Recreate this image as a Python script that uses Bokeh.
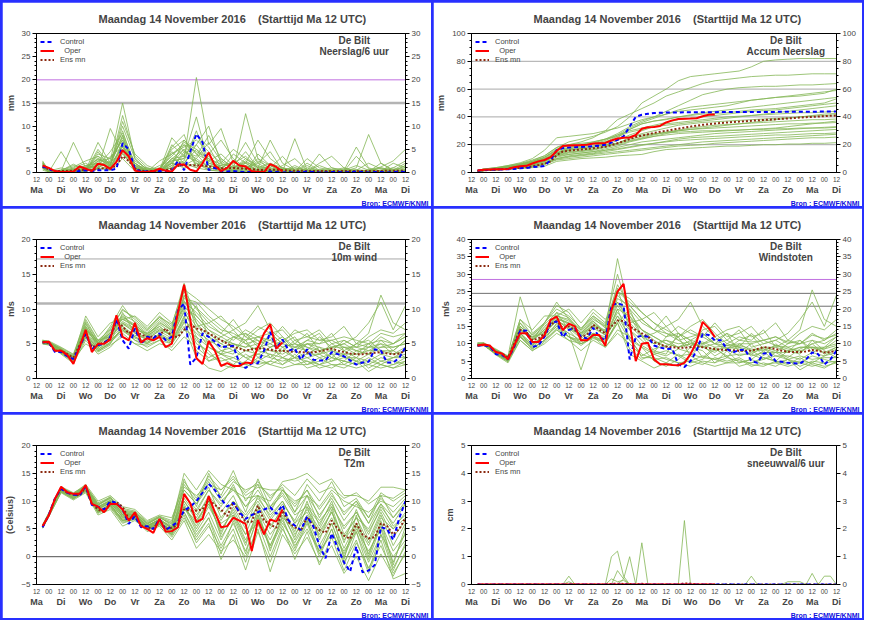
from bokeh.plotting import figure
from bokeh.models import (Range1d, LinearAxis, FixedTicker, Span, Label, Legend,
                          LegendItem, Title)
from bokeh.layouts import gridplot
from bokeh.embed import file_html
from bokeh.resources import INLINE

FONT = "Liberation Sans"
TITLE = "Maandag 14 November 2016\u00a0\u00a0\u00a0\u00a0(Starttijd Ma 12 UTC)"

# time axis (hours after Ma 14 Nov 12 UTC)
HOURS6 = list(range(6, 361, 6))                 # control / oper / ens mean
HOURS_M = [6] + list(range(12, 361, 12))        # ensemble members
XTICKS = list(range(0, 361, 12))
XLABELS = ["12", "00"] * 15 + ["12"]
DAYTICKS = list(range(0, 361, 24))
DAYLABELS = ["Ma", "Di", "Wo", "Do", "Vr", "Za", "Zo", "Ma", "Di", "Wo", "Do",
             "Vr", "Za", "Zo", "Ma", "Di"]

# ---------------- Neerslag / 6 uur ----------------
PR_OPER = [1.5, 1.0, 0.3, 0.1, 0.1, 0.2, 1.3, 0.8, 0.3, 1.9,
           1.6, 0.8, 2.3, 4.8, 3.5, 0.4, 0.1, 0.1, 0.3, 0.8,
           0.4, 0.2, 1.7, 1.7, 0.6, 0.2, 2.0, 4.3, 1.5, 0.3,
           1.0, 2.5, 1.5, 1.3, 0.3, 0.1, 0.1, 1.8, 1.2, 0.2]
PR_CTRL = [1.3, 0.8, 0.2, 0.1, 0.1, 0.1, 0.3, 0.5, 0.3, 0.5,
           0.5, 0.5, 0.8, 6.3, 5.0, 0.8, 0.2, 0.2, 0.1, 0.3,
           0.3, 0.3, 2.5, 0.5, 4.5, 8.3, 6.5, 0.5, 1.0, 0.3,
           0.2, 0.3, 0.2, 0.1, 0.1, 0.0, 0.1, 0.2, 0.1, 0.0,
           0.1, 0.0, 0.1, 0.2, 0.1, 0.0, 0.0, 0.1, 0.1, 0.0,
           0.1, 0.2, 0.1, 0.0, 0.1, 0.1, 0.0, 0.1, 0.2, 0.1]
PR_MEAN = [1.2, 0.7, 0.3, 0.3, 0.3, 0.4, 0.6, 0.5, 0.5, 0.8,
           0.9, 0.8, 1.5, 3.5, 2.5, 0.8, 0.4, 0.3, 0.3, 0.5,
           0.5, 0.8, 1.4, 1.6, 1.6, 1.5, 1.5, 1.3, 1.1, 0.9,
           0.9, 1.0, 0.9, 0.8, 0.7, 0.6, 0.5, 0.6, 0.6, 0.5,
           0.4, 0.4, 0.4, 0.3, 0.3, 0.3, 0.3, 0.3, 0.3, 0.3,
           0.3, 0.3, 0.3, 0.3, 0.3, 0.3, 0.4, 0.4, 0.4, 0.4]
PR_MEMBERS = [
    [2.0, 0.3, 0.2, 0.5, 1.5, 2.0, 1.0, 6.0, 1.5, 0.3, 0.5, 3.0, 5.0, 2.0, 1.0, 3.0, 1.0, 2.0, 0.5, 0.3, 1.0, 0.5, 0.2, 0.1, 0.5, 1.0, 0.3, 0.2, 1.0, 0.5, 0.3],
    [1.0, 0.1, 4.5, 0.3, 0.8, 1.2, 2.5, 15.0, 3.0, 0.5, 0.2, 1.5, 7.0, 4.0, 2.5, 1.0, 0.5, 12.7, 3.0, 1.5, 0.5, 0.2, 1.0, 0.3, 0.1, 0.2, 0.5, 2.0, 0.8, 0.3, 1.5],
    [2.5, 0.2, 0.3, 6.5, 1.0, 3.0, 1.5, 8.0, 0.5, 0.2, 1.5, 2.5, 3.0, 20.5, 6.0, 9.5, 2.0, 3.5, 1.0, 7.0, 2.0, 0.5, 0.3, 0.2, 0.5, 0.3, 0.1, 0.3, 0.2, 0.1, 0.2],
    [1.5, 0.2, 0.1, 0.2, 0.5, 6.5, 2.0, 5.0, 1.0, 0.8, 0.3, 5.5, 8.2, 1.0, 0.5, 0.3, 4.0, 2.0, 0.5, 0.3, 0.2, 7.3, 0.5, 0.2, 0.3, 0.1, 0.2, 0.5, 1.2, 2.5, 5.0],
    [1.2, 0.5, 0.3, 0.5, 0.3, 1.0, 9.5, 4.0, 2.0, 0.3, 0.5, 1.0, 4.0, 6.0, 10.0, 2.0, 1.0, 1.5, 0.5, 1.0, 0.5, 0.2, 3.0, 1.0, 0.5, 0.3, 1.0, 8.2, 2.0, 0.5, 0.3],
    [1.8, 0.1, 0.2, 1.0, 2.0, 0.5, 1.5, 12.3, 3.5, 1.0, 0.3, 2.0, 1.5, 3.0, 1.0, 0.5, 0.3, 0.2, 4.0, 1.5, 0.3, 0.5, 0.2, 2.0, 3.5, 1.0, 0.3, 0.2, 0.1, 0.5, 1.0],
    [0.8, 0.3, 1.0, 0.2, 0.5, 4.0, 3.0, 7.0, 0.5, 0.2, 2.5, 4.0, 6.0, 2.5, 0.5, 1.5, 2.0, 6.5, 2.0, 0.5, 0.3, 1.0, 0.5, 0.3, 0.2, 0.5, 5.5, 1.0, 0.3, 2.0, 1.0],
    [1.3, 0.2, 0.1, 0.3, 0.2, 2.5, 1.0, 5.0, 1.5, 0.5, 0.2, 3.0, 2.0, 1.0, 4.0, 7.0, 3.0, 1.0, 0.3, 0.2, 0.1, 0.2, 0.3, 0.5, 1.0, 0.3, 0.2, 0.1, 0.3, 0.2, 0.1],
    [2.2, 0.3, 0.2, 0.5, 1.0, 1.5, 0.5, 3.0, 0.3, 0.1, 0.2, 6.0, 3.5, 12.0, 2.0, 1.0, 0.5, 2.0, 7.0, 3.0, 1.0, 0.5, 0.3, 0.2, 0.1, 0.3, 0.5, 0.2, 0.3, 1.0, 2.5],
    [1.0, 0.1, 0.1, 0.2, 0.5, 3.0, 2.0, 9.0, 1.0, 0.3, 0.1, 1.0, 2.0, 5.0, 3.0, 0.5, 1.5, 4.5, 1.0, 0.3, 0.5, 0.2, 0.1, 0.3, 0.2, 0.1, 0.3, 0.5, 0.2, 0.1, 0.2],
    [1.6, 0.2, 0.5, 1.5, 0.8, 2.0, 1.0, 6.5, 2.5, 0.8, 0.5, 7.5, 4.5, 3.5, 8.0, 3.0, 1.0, 0.5, 2.5, 1.0, 3.5, 0.5, 0.3, 0.5, 0.3, 0.2, 0.1, 0.3, 0.5, 0.3, 0.5],
    [0.5, 0.1, 0.2, 0.3, 0.2, 1.0, 0.5, 4.0, 1.0, 0.2, 0.1, 2.0, 1.0, 2.0, 0.5, 0.3, 0.2, 1.0, 0.5, 0.3, 0.2, 0.1, 0.2, 0.1, 0.2, 0.3, 0.1, 0.2, 0.1, 0.2, 0.3],
    [2.0, 0.4, 0.3, 0.8, 0.4, 5.0, 1.5, 11.0, 4.0, 1.5, 0.5, 4.0, 5.5, 7.0, 4.5, 2.0, 5.0, 3.0, 1.0, 2.0, 1.0, 0.3, 0.5, 4.0, 1.0, 0.5, 0.3, 0.5, 1.0, 0.5, 2.0],
    [1.1, 0.2, 0.2, 0.4, 0.6, 0.8, 3.5, 5.5, 0.8, 0.2, 0.3, 1.5, 2.5, 9.0, 1.5, 0.8, 0.3, 0.5, 0.3, 0.5, 0.2, 1.5, 0.3, 0.2, 0.1, 0.2, 0.2, 0.3, 0.2, 0.1, 0.2],
    [1.7, 0.3, 0.5, 1.2, 2.5, 3.5, 2.0, 7.5, 1.0, 0.5, 1.0, 3.5, 6.5, 5.0, 2.0, 1.5, 0.5, 1.0, 2.0, 4.5, 0.5, 1.0, 0.5, 0.3, 0.2, 0.5, 1.5, 0.5, 0.3, 0.2, 0.5],
    [0.9, 0.2, 0.1, 0.3, 1.0, 1.5, 4.5, 8.5, 2.0, 0.3, 0.2, 2.5, 3.0, 8.0, 5.5, 1.0, 2.5, 0.5, 0.3, 0.2, 1.5, 3.0, 0.5, 0.2, 0.3, 0.5, 0.3, 0.2, 2.0, 0.5, 0.3],
    [1.4, 0.1, 0.2, 0.5, 0.3, 4.5, 1.0, 6.0, 0.8, 0.3, 0.8, 5.0, 7.0, 4.0, 1.0, 0.5, 1.0, 2.5, 0.8, 0.5, 0.3, 0.2, 2.0, 0.5, 0.3, 0.2, 0.1, 0.3, 0.2, 0.5, 0.3],
    [2.3, 0.5, 0.3, 0.8, 1.5, 2.0, 1.5, 10.0, 3.0, 0.5, 0.3, 1.0, 4.5, 3.0, 6.5, 2.5, 0.8, 3.0, 1.5, 0.5, 0.3, 0.5, 0.3, 1.5, 0.5, 0.3, 3.5, 0.8, 0.3, 0.2, 0.3],
    [1.0, 0.2, 0.2, 0.2, 0.8, 3.5, 0.8, 4.5, 0.5, 0.2, 0.3, 2.0, 5.0, 1.5, 3.5, 1.0, 0.3, 0.2, 0.5, 1.5, 0.2, 0.3, 0.2, 0.1, 0.2, 0.8, 0.2, 0.5, 0.2, 0.3, 0.2],
    [1.9, 0.3, 0.4, 1.8, 0.5, 2.5, 3.0, 7.0, 1.5, 1.0, 0.5, 4.5, 2.0, 6.0, 2.5, 4.0, 1.5, 0.8, 3.0, 0.5, 0.8, 0.3, 1.5, 0.3, 0.5, 0.2, 0.5, 0.3, 0.5, 1.0, 0.5],
    [1.2, 0.1, 0.1, 0.3, 0.4, 1.8, 1.2, 5.5, 2.0, 0.4, 0.2, 3.0, 3.5, 2.5, 1.5, 0.8, 0.4, 1.5, 0.5, 0.3, 0.5, 0.2, 0.3, 0.2, 0.1, 0.2, 0.3, 0.2, 0.1, 0.3, 1.5],
    [1.5, 0.2, 0.3, 0.6, 1.2, 2.8, 1.8, 8.0, 1.2, 0.6, 0.4, 2.2, 6.0, 4.5, 3.0, 1.8, 1.2, 2.2, 1.2, 0.8, 0.6, 0.4, 0.5, 0.6, 0.4, 0.4, 0.6, 0.4, 0.3, 0.4, 0.6],
]

# ---------------- Accum Neerslag ----------------
AC_OPER = [1.5, 2.0, 2.2, 2.3, 2.4, 2.6, 3.8, 4.5, 4.8, 6.5,
           8.0, 9.0, 11.0, 15.5, 19.0, 19.5, 19.6, 19.7, 20.0, 20.8,
           21.1, 21.3, 23.0, 24.5, 25.0, 25.2, 27.0, 31.5, 32.5, 32.8,
           33.5, 36.0, 37.5, 38.5, 38.7, 38.8, 39.0, 40.5, 41.5, 41.8]
AC_CTRL = [1.2, 1.8, 2.0, 2.1, 2.2, 2.3, 2.6, 3.0, 3.3, 3.8,
           4.2, 4.7, 9.0, 16.0, 17.5, 18.0, 18.2, 18.4, 18.6, 19.0,
           19.3, 20.0, 21.5, 23.5, 26.0, 33.0, 40.0, 41.5, 42.2, 42.8,
           43.0, 43.1, 43.2, 43.2, 43.3, 43.3, 43.3, 43.4, 43.4, 43.4,
           43.5, 43.5, 43.5, 43.5, 43.6, 43.6, 43.6, 43.6, 43.6, 43.6,
           43.7, 43.7, 43.7, 43.7, 43.7, 43.7, 43.8, 43.8, 43.8, 43.8]
AC_MEAN = [1.2, 1.6, 1.8, 2.0, 2.3, 2.6, 3.0, 3.3, 3.7, 4.5,
           5.3, 6.2, 8.0, 12.5, 15.0, 15.8, 16.2, 16.5, 17.0, 17.5,
           18.0, 18.5, 19.8, 21.0, 22.5, 24.0, 25.5, 26.5, 27.5, 28.5,
           29.3, 30.0, 30.8, 31.5, 32.3, 33.0, 33.7, 34.3, 34.8, 35.2,
           35.6, 36.0, 36.3, 36.6, 36.9, 37.2, 37.5, 37.8, 38.0, 38.3,
           38.6, 38.9, 39.2, 39.5, 39.8, 40.0, 40.3, 40.5, 40.8, 41.0]
AC_MEMBERS = [
    [1.5, 2.5, 3.5, 5.0, 6.5, 9.0, 12.0, 18.0, 22.0, 24.0, 26.0, 29.0, 33.0, 40.0, 50.0, 55.0, 60.0, 66.0, 69.0, 70.0, 71.0, 72.0, 73.0, 76.0, 80.0, 81.0, 81.5, 82.0, 82.0, 82.0, 82.0],
    [1.0, 2.0, 3.0, 4.5, 6.0, 8.0, 11.0, 16.0, 20.0, 22.0, 25.0, 30.0, 38.0, 42.0, 46.0, 50.0, 55.0, 58.0, 61.0, 64.0, 66.0, 67.0, 68.0, 69.0, 69.5, 70.0, 70.0, 70.5, 71.0, 71.0, 71.0],
    [1.2, 2.2, 3.0, 4.0, 5.5, 7.5, 10.0, 14.0, 18.0, 20.0, 22.0, 24.0, 28.0, 33.0, 37.0, 40.0, 44.0, 48.0, 52.0, 56.0, 58.0, 60.0, 61.0, 61.5, 62.0, 62.0, 62.5, 63.0, 63.0, 63.5, 64.0],
    [1.5, 2.5, 3.5, 5.0, 7.0, 10.0, 16.0, 25.0, 26.0, 27.0, 28.0, 30.0, 32.0, 35.0, 38.0, 40.0, 42.0, 44.0, 45.0, 46.0, 47.0, 48.0, 50.0, 52.0, 53.0, 54.0, 54.5, 55.0, 56.0, 57.0, 60.0],
    [0.8, 1.5, 2.0, 3.0, 4.0, 6.0, 8.0, 13.0, 16.0, 17.0, 18.0, 21.0, 25.0, 31.0, 35.0, 37.0, 38.0, 40.0, 41.0, 42.0, 42.5, 43.0, 44.0, 45.0, 45.5, 46.0, 47.0, 48.0, 49.0, 50.0, 53.0],
    [1.3, 2.0, 2.8, 3.5, 4.5, 6.5, 9.0, 14.0, 16.0, 17.0, 18.0, 20.0, 23.0, 27.0, 30.0, 33.0, 35.0, 36.0, 37.0, 38.0, 39.0, 40.0, 40.5, 41.0, 41.5, 42.0, 42.5, 43.0, 43.0, 43.5, 44.0],
    [1.0, 1.8, 2.5, 3.2, 4.0, 5.0, 7.0, 11.0, 13.0, 14.0, 15.0, 17.0, 19.0, 22.0, 24.0, 26.0, 28.0, 30.0, 31.0, 32.0, 33.0, 34.0, 35.0, 35.5, 36.0, 36.5, 37.0, 37.5, 38.0, 38.0, 38.5],
    [1.5, 2.3, 3.0, 4.0, 5.0, 7.0, 10.0, 15.0, 17.0, 18.0, 19.0, 20.0, 21.0, 23.0, 25.0, 27.0, 29.0, 30.0, 31.0, 31.5, 32.0, 32.5, 33.0, 33.5, 34.0, 34.5, 35.0, 35.0, 35.5, 35.5, 36.0],
    [0.9, 1.5, 2.0, 2.8, 3.5, 5.0, 7.0, 10.0, 12.0, 13.0, 14.0, 16.0, 18.0, 20.0, 22.0, 23.0, 24.0, 25.0, 26.0, 27.0, 28.0, 28.5, 29.0, 29.5, 30.0, 30.5, 31.0, 31.5, 32.0, 32.0, 32.5],
    [1.2, 2.0, 2.5, 3.0, 4.0, 5.5, 8.0, 12.0, 13.0, 14.0, 15.0, 16.0, 17.0, 18.5, 20.0, 21.0, 22.0, 23.0, 23.5, 24.0, 24.5, 25.0, 25.5, 26.0, 26.5, 27.0, 27.0, 27.5, 28.0, 28.0, 28.5],
    [0.7, 1.2, 1.8, 2.5, 3.0, 4.0, 6.0, 9.0, 10.0, 11.0, 12.0, 13.0, 14.0, 15.0, 16.0, 17.0, 18.0, 19.0, 19.5, 20.0, 21.0, 21.5, 22.0, 22.5, 23.0, 23.5, 24.0, 24.5, 25.0, 25.0, 25.5],
    [1.0, 1.5, 2.0, 2.5, 3.0, 3.5, 4.5, 8.0, 9.0, 10.0, 10.5, 11.0, 12.0, 12.5, 13.0, 15.0, 16.5, 17.0, 17.5, 18.0, 18.5, 19.0, 19.0, 19.5, 20.0, 20.0, 20.5, 20.5, 21.0, 21.0, 21.5],
    [1.4, 2.2, 3.0, 4.0, 6.0, 8.0, 11.0, 17.0, 19.0, 20.0, 21.0, 22.0, 24.0, 26.0, 27.0, 28.0, 28.5, 29.0, 29.5, 30.0, 30.0, 30.5, 30.5, 31.0, 31.0, 31.5, 31.5, 32.0, 32.0, 32.5, 33.0],
    [1.1, 1.8, 2.5, 3.5, 5.0, 7.0, 9.5, 14.0, 17.0, 19.0, 21.0, 24.0, 27.0, 30.0, 32.0, 34.0, 36.0, 38.0, 39.0, 40.0, 41.0, 42.0, 43.0, 44.0, 44.5, 45.0, 46.0, 47.0, 48.0, 49.0, 50.0],
    [1.3, 2.0, 2.6, 3.5, 5.0, 7.0, 9.0, 14.0, 16.0, 17.5, 19.0, 22.0, 26.0, 31.0, 35.0, 37.0, 38.5, 40.0, 41.5, 43.0, 44.0, 45.0, 46.0, 47.0, 48.0, 49.0, 50.0, 51.0, 52.0, 53.0, 54.0],
    [1.0, 1.6, 2.2, 3.0, 4.0, 5.5, 8.5, 13.0, 15.0, 16.0, 17.0, 19.0, 21.0, 24.0, 26.0, 27.5, 29.0, 30.5, 32.0, 33.0, 34.0, 34.5, 35.0, 36.0, 37.0, 38.0, 39.0, 40.0, 41.0, 42.0, 42.5],
    [1.2, 1.9, 2.5, 3.3, 4.5, 6.0, 8.0, 12.0, 14.0, 15.0, 16.0, 18.0, 20.0, 22.5, 24.5, 26.0, 27.0, 28.0, 28.5, 29.0, 29.5, 30.0, 30.5, 31.0, 31.5, 32.0, 33.0, 34.0, 35.0, 36.0, 37.0],
    [0.8, 1.3, 1.9, 2.6, 3.5, 4.5, 6.5, 10.0, 11.5, 12.5, 13.5, 15.0, 16.5, 18.0, 19.5, 21.0, 22.5, 24.0, 25.0, 25.5, 26.0, 26.5, 27.0, 27.5, 28.0, 28.5, 29.0, 29.5, 30.0, 30.5, 31.0],
    [1.4, 2.1, 2.9, 3.8, 5.5, 7.5, 10.5, 16.0, 18.0, 19.0, 20.5, 23.0, 27.0, 32.0, 36.0, 39.0, 42.0, 45.0, 47.0, 48.0, 49.0, 50.0, 51.0, 52.0, 53.0, 54.0, 55.0, 56.0, 57.0, 58.0, 59.0],
    [0.9, 1.4, 1.9, 2.5, 3.2, 4.2, 6.0, 9.5, 11.0, 12.0, 13.0, 14.0, 15.0, 16.0, 17.0, 18.0, 19.0, 20.0, 21.0, 22.0, 22.5, 23.0, 23.5, 24.0, 24.5, 25.0, 25.5, 26.0, 26.5, 27.0, 27.5],
    [1.1, 1.7, 2.3, 3.1, 4.2, 6.0, 8.0, 12.5, 14.5, 15.5, 16.5, 18.5, 21.0, 25.0, 28.0, 30.0, 32.0, 34.0, 35.0, 36.0, 36.5, 37.0, 37.5, 38.0, 38.5, 39.0, 39.5, 40.0, 40.5, 41.0, 41.5],
    [1.6, 2.4, 3.2, 4.3, 6.0, 8.5, 12.0, 18.0, 20.0, 21.0, 22.0, 24.0, 26.0, 29.0, 31.0, 33.0, 34.0, 35.0, 36.0, 37.0, 38.0, 39.0, 40.0, 41.0, 42.0, 43.0, 44.0, 45.0, 46.0, 47.0, 48.0],
]

# ---------------- 10m wind ----------------
WI_OPER = [5.2, 5.3, 4.0, 4.0, 3.4, 2.1, 4.5, 7.0, 3.8, 5.0,
           5.0, 5.6, 9.1, 6.0, 5.5, 8.0, 5.2, 5.8, 5.5, 6.0,
           4.5, 5.0, 9.5, 13.5, 8.5, 2.9, 2.1, 5.4, 4.0, 1.8,
           2.2, 1.8, 1.8, 2.3, 2.2, 4.5, 6.5, 7.8, 4.3, 5.2]
WI_CTRL = [5.2, 5.2, 3.8, 3.8, 3.2, 2.8, 4.5, 6.5, 4.2, 4.8,
           5.0, 6.0, 8.5, 5.5, 4.3, 7.2, 5.0, 6.0, 5.8, 6.5,
           5.5, 6.0, 9.8, 10.8, 2.0, 3.0, 6.5, 6.0, 5.3, 4.5,
           4.6, 4.7, 2.2, 1.5, 2.2, 2.2, 4.0, 6.7, 4.3, 5.6,
           4.0, 4.3, 2.7, 4.2, 2.7, 2.6, 2.6, 3.8, 3.5, 3.2,
           2.6, 2.0, 2.3, 2.4, 4.2, 4.0, 2.3, 2.3, 3.0, 4.5]
WI_MEAN = [5.2, 5.1, 4.0, 4.0, 3.5, 3.0, 4.8, 6.5, 4.5, 4.8,
           5.2, 5.8, 8.3, 7.5, 6.5, 7.0, 6.3, 6.0, 6.0, 6.2,
           7.2, 6.0, 6.0, 7.0, 7.8, 7.2, 7.0, 6.5, 6.0, 5.5,
           5.0, 4.6, 4.3, 4.0, 4.2, 4.3, 4.3, 4.1, 4.0, 4.0,
           3.9, 3.9, 3.8, 3.7, 3.8, 3.9, 4.1, 4.3, 4.0, 3.8,
           3.6, 3.5, 3.5, 3.6, 3.7, 3.8, 3.6, 3.5, 3.6, 4.0]
WI_MEMBERS = [
    [5.3, 5.2, 4.2, 3.0, 7.5, 4.5, 6.0, 8.0, 7.0, 6.5, 7.5, 6.0, 12.0, 9.0, 7.0, 5.5, 5.0, 4.5, 6.0, 5.0, 4.0, 5.5, 4.5, 3.5, 5.0, 4.0, 3.0, 4.5, 5.0, 3.5, 4.5],
    [5.0, 4.8, 3.8, 2.5, 6.0, 4.0, 5.0, 9.5, 6.5, 5.5, 6.0, 5.0, 8.0, 10.5, 6.0, 4.0, 3.5, 6.5, 5.5, 3.0, 4.5, 3.0, 5.0, 4.0, 3.0, 2.5, 4.0, 3.5, 5.5, 4.0, 3.0],
    [5.5, 5.4, 4.5, 3.5, 8.5, 5.5, 7.0, 10.0, 8.5, 7.0, 9.0, 7.5, 13.7, 8.0, 5.0, 6.0, 7.0, 5.0, 4.0, 6.5, 7.0, 5.0, 4.0, 6.0, 4.5, 5.0, 6.0, 8.0, 11.0, 7.0, 10.5],
    [5.1, 5.0, 3.5, 2.2, 5.5, 3.5, 4.5, 6.5, 5.0, 4.0, 5.0, 4.5, 7.0, 6.0, 2.5, 3.0, 2.0, 3.5, 2.5, 2.0, 3.0, 2.5, 3.0, 2.0, 1.5, 2.5, 2.0, 3.0, 2.0, 1.5, 2.5],
    [5.4, 5.3, 4.0, 3.2, 7.0, 5.0, 6.5, 9.0, 7.5, 6.0, 8.0, 7.0, 11.5, 11.0, 9.0, 7.5, 6.0, 5.5, 7.0, 8.0, 6.0, 4.5, 5.5, 5.0, 6.5, 4.0, 5.0, 4.5, 6.0, 5.0, 6.0],
    [5.2, 5.1, 3.9, 2.8, 6.5, 4.5, 5.5, 7.0, 6.0, 5.0, 6.5, 5.5, 9.0, 5.0, 4.0, 2.0, 1.5, 2.5, 4.0, 3.5, 2.0, 3.5, 2.0, 2.5, 3.5, 2.0, 1.5, 2.0, 3.0, 2.5, 2.0],
    [5.0, 5.0, 4.3, 3.0, 9.0, 6.0, 8.0, 8.5, 9.0, 7.5, 9.5, 8.0, 10.0, 7.5, 8.0, 9.0, 7.0, 8.0, 10.5, 7.0, 5.5, 6.5, 7.0, 5.5, 6.0, 7.5, 5.0, 6.5, 12.0, 8.0, 7.0],
    [5.3, 5.1, 3.7, 2.6, 6.0, 4.0, 5.0, 7.5, 5.5, 4.5, 5.5, 4.0, 6.0, 4.5, 3.0, 4.0, 4.5, 3.0, 2.0, 2.5, 4.0, 3.0, 1.5, 2.0, 2.5, 3.5, 2.5, 1.0, 2.0, 3.0, 4.0],
    [5.5, 5.3, 4.1, 3.3, 7.0, 5.5, 6.0, 8.0, 6.5, 6.0, 7.0, 6.5, 10.5, 8.5, 6.5, 5.0, 4.0, 5.5, 3.0, 4.5, 5.0, 6.0, 3.5, 4.5, 3.0, 4.5, 3.5, 5.0, 3.5, 4.0, 5.5],
    [5.1, 5.0, 3.8, 2.7, 5.0, 3.8, 4.8, 6.0, 5.0, 4.8, 5.5, 5.0, 7.5, 3.0, 1.5, 1.0, 2.0, 1.5, 3.0, 2.0, 1.5, 2.0, 2.5, 1.5, 2.0, 1.5, 2.5, 2.0, 1.5, 2.0, 3.0],
    [5.4, 5.2, 4.4, 3.4, 8.0, 5.0, 7.5, 10.5, 8.0, 6.5, 8.5, 7.0, 12.5, 10.0, 8.0, 6.5, 5.5, 7.0, 6.0, 5.5, 7.5, 5.5, 6.0, 7.0, 5.0, 5.5, 4.5, 6.0, 7.0, 6.5, 8.0],
    [5.2, 5.0, 3.6, 2.4, 6.5, 4.2, 5.5, 7.0, 5.5, 5.0, 6.0, 5.5, 8.5, 6.5, 5.0, 3.5, 3.0, 4.0, 3.5, 4.5, 3.0, 4.0, 3.0, 3.5, 4.0, 3.0, 3.0, 2.5, 3.5, 3.0, 3.5],
    [5.3, 5.2, 4.0, 3.0, 7.5, 5.2, 6.5, 8.5, 7.5, 6.0, 7.5, 6.0, 11.0, 9.5, 7.5, 6.5, 8.5, 6.0, 5.0, 6.0, 4.5, 5.0, 6.5, 4.0, 4.5, 5.0, 4.0, 3.5, 4.5, 5.0, 6.5],
    [5.0, 4.9, 3.9, 2.9, 6.2, 4.4, 6.0, 7.8, 6.8, 5.5, 7.0, 6.2, 9.5, 7.0, 5.5, 4.5, 5.0, 4.0, 4.5, 4.0, 3.5, 4.5, 4.0, 3.0, 3.5, 3.5, 3.5, 4.0, 4.0, 3.5, 4.0],
    [5.2, 5.1, 4.1, 3.1, 7.2, 4.8, 6.2, 8.8, 7.8, 6.2, 8.2, 6.8, 11.2, 8.0, 6.0, 5.0, 6.0, 5.0, 5.5, 4.5, 5.5, 4.0, 5.0, 4.5, 4.0, 5.5, 4.5, 4.0, 5.0, 4.5, 5.0],
    [5.4, 5.2, 3.9, 2.9, 6.8, 4.6, 5.8, 7.5, 6.2, 5.8, 6.8, 5.8, 9.8, 6.0, 4.5, 3.5, 4.0, 3.0, 3.5, 3.0, 2.5, 3.0, 3.5, 3.5, 2.5, 3.0, 2.5, 3.5, 2.5, 3.0, 3.0],
    [5.1, 5.0, 4.2, 2.8, 7.8, 5.2, 6.8, 9.2, 8.2, 6.8, 8.8, 7.2, 12.8, 11.5, 10.0, 8.5, 7.5, 6.0, 7.5, 6.5, 5.0, 7.0, 6.0, 5.5, 5.5, 6.0, 5.5, 5.0, 6.5, 6.0, 6.5],
    [5.3, 5.1, 3.7, 2.5, 5.8, 3.9, 5.2, 6.8, 5.8, 5.2, 6.2, 5.2, 8.8, 5.5, 3.5, 2.5, 3.0, 2.0, 2.5, 3.5, 3.0, 2.0, 2.0, 3.0, 2.0, 2.0, 3.0, 1.5, 2.5, 2.0, 2.5],
    [5.2, 5.2, 4.0, 3.0, 7.0, 5.0, 6.3, 8.2, 7.2, 6.2, 7.2, 6.2, 10.2, 9.0, 7.0, 6.0, 5.0, 4.5, 5.0, 5.5, 4.5, 5.0, 4.5, 4.0, 4.5, 4.5, 4.0, 4.5, 4.5, 4.5, 5.0],
    [5.5, 5.3, 4.3, 3.2, 8.2, 5.4, 7.2, 9.8, 8.8, 7.2, 8.8, 7.8, 13.0, 7.0, 4.5, 3.5, 6.0, 6.5, 4.5, 5.0, 6.0, 4.0, 5.5, 6.5, 4.0, 3.5, 5.0, 5.5, 4.0, 4.0, 5.5],
    [5.0, 4.9, 3.8, 2.6, 6.2, 4.2, 5.2, 7.2, 6.0, 5.2, 6.4, 5.2, 8.2, 4.0, 2.5, 3.5, 2.5, 2.0, 1.5, 2.5, 2.0, 3.0, 2.5, 2.0, 3.0, 2.5, 2.0, 2.5, 2.0, 1.5, 2.0],
    [5.3, 5.2, 4.1, 3.1, 7.3, 5.1, 6.6, 8.6, 7.6, 6.4, 7.8, 6.6, 11.8, 10.2, 8.5, 7.0, 6.5, 5.5, 6.0, 6.5, 5.0, 4.5, 5.0, 5.0, 5.5, 4.5, 4.5, 5.0, 5.5, 5.0, 6.0],
]

# ---------------- Windstoten ----------------
GU_OPER = [9.5, 9.8, 9.5, 7.6, 7.2, 5.5, 9.5, 13.0, 13.0, 10.5,
           10.5, 12.5, 16.9, 17.8, 13.9, 15.8, 15.0, 11.0, 11.0, 12.5,
           12.5, 9.4, 19.6, 25.0, 27.2, 16.0, 5.0, 10.0, 10.3, 5.5,
           4.1, 4.1, 3.9, 3.8, 4.5, 7.0, 10.5, 16.3, 14.5, 11.9]
GU_CTRL = [9.5, 9.5, 9.3, 7.0, 6.8, 5.5, 9.0, 13.7, 13.8, 9.1,
           9.5, 12.0, 16.0, 16.4, 11.9, 14.0, 14.5, 12.0, 11.5, 14.6,
           12.0, 11.0, 21.0, 21.7, 21.0, 5.5, 11.9, 12.3, 12.0, 9.5,
           8.9, 8.5, 8.6, 4.0, 3.3, 5.0, 8.0, 12.8, 12.5, 11.0,
           11.0, 8.5, 7.5, 8.2, 8.3, 5.0, 4.5, 7.2, 7.3, 5.0,
           4.8, 4.5, 4.4, 4.3, 5.5, 7.5, 7.0, 4.0, 5.5, 8.0]
GU_MEAN = [9.5, 9.6, 9.3, 7.6, 7.2, 6.0, 10.0, 14.0, 13.5, 11.0,
           11.5, 13.0, 15.5, 16.5, 14.5, 15.0, 14.0, 12.0, 12.5, 15.5,
           14.0, 13.0, 15.0, 16.7, 16.5, 15.0, 14.0, 13.0, 12.0, 10.5,
           9.8, 9.2, 9.0, 8.8, 8.9, 9.0, 9.3, 9.0, 8.7, 8.5,
           8.3, 8.2, 8.1, 8.0, 8.0, 8.0, 8.5, 9.0, 8.8, 8.5,
           8.0, 7.7, 7.6, 7.6, 7.8, 8.2, 8.0, 7.5, 7.6, 8.0]
GU_MEMBERS = [
    [9.8, 10.0, 7.8, 5.8, 14.0, 11.0, 14.0, 17.0, 16.0, 12.0, 16.0, 13.0, 22.0, 17.0, 14.0, 12.0, 10.0, 9.0, 11.0, 10.0, 8.0, 9.0, 8.5, 7.0, 9.0, 8.0, 6.0, 8.5, 10.0, 7.0, 9.0],
    [9.5, 9.8, 7.2, 5.0, 12.0, 9.5, 12.0, 19.0, 14.0, 10.0, 12.0, 11.0, 16.0, 20.0, 12.0, 8.0, 7.0, 13.0, 11.0, 6.0, 9.0, 6.0, 10.0, 8.0, 6.0, 5.0, 8.0, 7.0, 11.0, 8.0, 6.0],
    [10.2, 10.3, 8.5, 6.5, 23.5, 13.0, 16.0, 21.0, 19.0, 14.0, 19.0, 16.0, 30.0, 18.0, 12.0, 13.0, 15.0, 11.0, 9.0, 14.0, 15.0, 11.0, 9.0, 13.0, 10.0, 11.0, 13.0, 17.0, 22.0, 15.0, 24.0],
    [9.3, 9.6, 6.8, 4.5, 11.0, 8.0, 10.0, 13.0, 11.0, 8.0, 11.0, 9.0, 14.0, 12.0, 6.0, 6.0, 4.5, 7.0, 5.0, 4.0, 6.0, 5.0, 6.0, 4.0, 3.5, 5.0, 4.0, 6.0, 4.0, 3.0, 5.0],
    [10.0, 10.2, 8.0, 6.2, 15.0, 12.0, 15.0, 18.0, 17.0, 13.0, 17.0, 15.0, 25.0, 23.0, 19.0, 16.0, 13.0, 12.0, 15.0, 17.0, 13.0, 10.0, 12.0, 11.0, 14.0, 9.0, 11.0, 10.0, 13.0, 11.0, 13.0],
    [9.6, 9.9, 7.5, 5.5, 13.0, 10.0, 12.0, 15.0, 13.0, 2.5, 13.0, 11.0, 20.0, 11.0, 9.0, 5.0, 3.5, 5.5, 9.0, 8.0, 4.5, 8.0, 4.5, 5.5, 8.0, 4.5, 3.5, 4.5, 6.5, 5.5, 4.5],
    [9.4, 9.7, 8.2, 5.8, 17.0, 14.0, 18.0, 18.0, 20.0, 16.0, 20.0, 17.0, 22.0, 16.0, 17.0, 19.0, 15.0, 17.0, 22.0, 15.0, 12.0, 14.0, 15.0, 12.0, 13.0, 16.0, 11.0, 14.0, 25.5, 17.0, 15.0],
    [9.7, 9.8, 7.0, 5.2, 12.0, 8.5, 11.0, 16.0, 12.0, 9.5, 12.0, 9.0, 13.0, 10.0, 6.5, 8.5, 9.5, 6.5, 4.5, 5.5, 8.5, 6.5, 3.5, 4.5, 5.5, 7.5, 5.5, 2.5, 4.5, 6.5, 8.5],
    [10.3, 10.1, 8.0, 6.0, 14.0, 12.0, 13.0, 17.0, 14.0, 13.0, 15.0, 14.0, 34.5, 19.0, 14.0, 11.0, 9.0, 12.0, 6.5, 10.0, 11.0, 13.0, 7.5, 10.0, 6.5, 10.0, 7.5, 11.0, 7.5, 9.0, 12.0],
    [9.5, 9.6, 7.3, 5.0, 11.0, 8.0, 10.5, 14.0, 11.0, 10.0, 11.5, 10.5, 16.0, 7.0, 5.0, 3.0, 4.5, 3.5, 6.5, 4.5, 3.5, 4.5, 5.5, 3.5, 4.5, 3.5, 5.5, 4.5, 3.5, 4.5, 6.5],
    [10.1, 10.0, 8.3, 6.3, 16.0, 11.0, 16.0, 22.0, 17.0, 14.0, 18.0, 15.0, 27.0, 21.0, 17.0, 14.0, 12.0, 15.0, 13.0, 12.0, 16.0, 12.0, 13.0, 15.0, 11.0, 12.0, 10.0, 13.0, 15.0, 14.0, 17.0],
    [9.6, 9.7, 7.0, 4.8, 13.0, 9.0, 12.0, 15.0, 12.0, 11.0, 13.0, 12.0, 18.0, 14.0, 11.0, 7.5, 6.5, 8.5, 7.5, 9.5, 6.5, 8.5, 6.5, 7.5, 8.5, 6.5, 6.5, 5.5, 7.5, 6.5, 7.5],
    [9.8, 10.0, 7.6, 5.7, 15.0, 11.5, 14.0, 17.5, 16.0, 12.5, 16.5, 13.0, 24.0, 20.0, 16.0, 14.0, 18.0, 13.0, 11.0, 13.0, 10.0, 11.0, 14.0, 9.0, 10.0, 11.0, 9.0, 7.5, 10.0, 11.0, 14.0],
    [9.4, 9.5, 7.4, 5.5, 12.5, 9.5, 13.0, 16.5, 14.5, 11.5, 14.5, 12.5, 19.0, 15.0, 12.0, 10.0, 11.0, 9.0, 10.0, 9.0, 7.5, 10.0, 9.0, 6.5, 7.5, 7.5, 7.5, 9.0, 9.0, 7.5, 9.0],
    [9.7, 9.9, 7.7, 5.6, 14.5, 11.0, 14.0, 17.5, 15.5, 12.0, 15.5, 13.5, 21.0, 16.0, 12.5, 10.0, 11.0, 10.0, 10.5, 9.0, 10.0, 8.5, 9.5, 8.5, 8.0, 9.5, 8.5, 8.0, 9.0, 8.5, 9.5],
    [9.5, 9.7, 7.3, 5.3, 13.0, 9.8, 12.5, 15.5, 13.0, 11.0, 13.0, 11.5, 18.0, 12.0, 9.0, 7.0, 8.0, 6.5, 7.0, 6.0, 5.5, 6.5, 7.0, 7.0, 5.5, 6.5, 5.5, 6.5, 5.5, 6.0, 6.0],
    [9.9, 10.1, 8.1, 6.0, 16.0, 12.5, 15.5, 19.0, 17.5, 13.5, 17.5, 14.5, 25.0, 22.0, 19.0, 16.0, 14.0, 12.0, 14.0, 12.0, 10.0, 13.0, 11.0, 10.5, 11.0, 12.0, 10.5, 10.0, 12.5, 11.5, 12.5],
    [9.6, 9.7, 7.1, 5.1, 12.0, 8.8, 11.0, 14.0, 12.0, 10.0, 12.0, 10.0, 17.0, 11.0, 7.0, 5.5, 6.0, 4.5, 5.0, 6.5, 5.5, 4.5, 4.5, 5.5, 4.0, 4.5, 5.5, 3.5, 5.0, 4.5, 5.0],
    [9.7, 9.8, 7.6, 5.7, 14.0, 11.0, 13.5, 16.5, 15.0, 12.0, 15.0, 12.5, 20.0, 18.0, 14.0, 12.0, 10.0, 9.0, 10.0, 10.5, 9.0, 9.5, 9.0, 8.0, 9.0, 9.0, 8.0, 9.0, 9.0, 9.0, 10.0],
    [10.0, 10.1, 8.2, 6.2, 17.0, 12.5, 16.0, 20.0, 18.0, 14.5, 18.0, 15.5, 26.0, 14.0, 9.5, 7.5, 12.0, 13.0, 9.5, 10.0, 12.0, 8.5, 11.0, 12.5, 8.5, 7.5, 10.0, 11.0, 8.5, 8.5, 11.0],
    [9.4, 9.6, 7.2, 5.0, 12.0, 8.5, 11.0, 14.5, 12.0, 10.5, 12.5, 10.0, 16.0, 8.5, 5.5, 7.0, 5.5, 4.5, 3.5, 5.0, 4.5, 6.0, 5.0, 4.5, 6.0, 5.0, 4.5, 5.0, 4.5, 3.5, 4.5],
    [9.8, 10.0, 7.9, 5.9, 15.0, 11.8, 14.5, 18.0, 16.5, 13.0, 16.5, 13.5, 23.0, 21.0, 17.0, 14.0, 13.0, 11.0, 12.0, 13.0, 10.0, 9.5, 10.0, 10.0, 11.0, 9.5, 9.0, 10.0, 11.0, 10.0, 12.0],
]

# ---------------- T2m ----------------
T2_OPER = [5.5, 7.4, 10.4, 12.6, 11.6, 11.3, 11.3, 12.9, 9.5, 9.0,
           8.0, 9.5, 9.5, 8.5, 6.5, 8.0, 5.5, 5.0, 4.3, 6.8,
           4.5, 4.6, 5.3, 11.3, 9.6, 6.2, 6.8, 10.9, 8.0, 5.3,
           5.5, 7.0, 6.5, 5.9, 1.0, 6.6, 4.0, 6.7, 6.3, 8.5]
T2_CTRL = [5.3, 7.5, 10.5, 12.2, 11.5, 11.2, 11.0, 12.7, 9.3, 9.0,
           8.5, 10.0, 9.7, 8.5, 5.9, 7.3, 5.3, 5.5, 5.0, 6.8,
           4.8, 5.5, 6.3, 8.3, 9.0, 10.0, 11.5, 13.1, 12.0, 10.4,
           9.0, 9.7, 8.0, 6.8, 7.5, 8.0, 8.5, 8.9, 7.7, 9.3,
           6.5, 5.6, 4.8, 7.2, 5.5, 2.0, -0.3, 4.2, 1.5, -1.0,
           -2.7, 1.8, -2.8, -2.5, -1.5, 5.3, 5.0, 3.0, 7.0, 10.0]
T2_MEAN = [5.4, 7.5, 10.4, 12.3, 11.5, 11.2, 11.0, 12.5, 9.5, 8.5,
           8.0, 9.7, 9.8, 9.0, 6.8, 7.5, 5.6, 5.3, 5.0, 6.7,
           5.0, 5.2, 5.8, 8.5, 8.3, 8.3, 8.5, 10.3, 9.3, 8.5,
           7.3, 9.8, 7.8, 6.3, 6.3, 9.2, 6.5, 5.8, 5.2, 8.3,
           6.2, 5.3, 4.7, 7.2, 5.5, 4.8, 4.3, 6.5, 5.0, 3.8,
           3.2, 6.0, 4.0, 3.3, 3.5, 6.0, 5.5, 4.0, 5.0, 7.0]
T2_MEMBERS = [
    [5.5, 7.6, 12.2, 11.0, 12.5, 9.0, 10.0, 8.0, 7.5, 5.5, 6.5, 5.0, 9.0, 6.0, 10.0, 4.0, 9.0, 5.0, 11.0, 7.0, 10.0, 6.0, 8.0, 4.0, 8.0, 3.0, 6.0, 2.0, 7.0, 5.0, 8.0],
    [5.3, 7.4, 11.8, 10.6, 12.0, 8.0, 9.5, 6.5, 7.0, 5.0, 6.0, 4.0, 13.0, 10.0, 14.0, 11.0, 15.5, 10.0, 13.0, 8.0, 12.0, 9.0, 12.0, 7.0, 11.0, 8.0, 10.0, 6.0, 11.0, 7.0, 10.0],
    [5.7, 7.8, 12.5, 11.3, 12.8, 9.5, 10.5, 8.5, 8.0, 6.0, 7.0, 6.0, 15.0, 12.0, 15.5, 13.0, 12.0, 9.0, 11.0, 10.0, 13.5, 14.0, 15.0, 13.0, 14.0, 11.0, 11.0, 10.0, 12.5, 12.5, 12.0],
    [5.2, 7.2, 11.5, 10.2, 11.5, 7.5, 8.5, 5.5, 6.5, 4.8, 5.8, 3.5, 7.0, 3.0, 6.0, -0.5, 4.0, -2.4, 4.5, -1.0, 5.0, 1.0, 6.0, 0.0, 5.0, -1.0, 3.0, -3.0, 3.0, -4.0, -3.0],
    [5.6, 7.7, 12.3, 11.2, 12.6, 9.2, 10.8, 7.5, 7.8, 5.8, 7.2, 5.5, 11.0, 8.0, 12.0, 9.0, 13.0, 8.0, 14.0, 9.0, 11.0, 7.5, 9.0, 6.0, 9.5, 5.0, 8.0, 4.0, 9.0, 6.0, 9.5],
    [5.4, 7.5, 12.0, 10.8, 12.2, 8.5, 9.8, 7.0, 7.2, 5.3, 6.2, 4.5, 8.0, 4.0, 7.0, 2.0, 6.0, 1.0, 7.0, 3.0, 8.0, 3.0, 7.0, 2.0, 6.0, 0.0, 5.0, 1.0, 5.0, -2.0, 2.0],
    [5.5, 7.6, 12.4, 11.4, 13.0, 10.0, 11.0, 9.0, 8.5, 6.5, 7.5, 7.0, 12.5, 11.0, 13.0, 12.0, 14.0, 11.0, 12.5, 12.0, 12.0, 10.0, 11.0, 9.0, 12.0, 10.0, 9.0, 8.0, 10.0, 9.0, 11.0],
    [5.1, 7.3, 11.7, 10.5, 11.8, 7.8, 8.8, 6.0, 6.8, 4.5, 5.5, 3.0, 6.5, 1.5, 4.0, 1.0, 3.0, 0.0, 5.0, -2.7, 4.0, 0.5, 3.5, -1.0, 2.0, -3.0, 0.0, -4.3, 0.5, -3.5, 1.0],
    [5.6, 7.7, 12.1, 11.0, 12.4, 9.0, 10.2, 7.8, 7.6, 5.6, 6.8, 5.2, 10.0, 7.0, 11.0, 8.0, 11.0, 6.0, 9.0, 5.0, 9.0, 4.5, 10.0, 3.5, 7.0, 1.5, 6.0, 0.5, 6.0, 1.0, 4.0],
    [5.3, 7.4, 11.9, 10.7, 12.1, 8.2, 9.2, 6.8, 7.0, 5.2, 6.0, 4.8, 9.5, 5.0, 9.0, 5.0, 8.0, 3.0, 8.0, 4.0, 7.0, 5.0, 8.5, 5.0, 9.0, 2.5, 8.5, 3.0, 8.0, 3.5, 6.5],
    [5.8, 7.9, 12.6, 11.5, 12.7, 9.7, 10.7, 8.7, 8.2, 6.3, 7.3, 6.5, 14.0, 9.0, 15.0, 10.5, 13.5, 12.0, 13.0, 11.0, 12.5, 8.0, 13.0, 10.0, 13.5, 9.0, 10.5, 7.0, 11.5, 10.0, 11.5],
    [5.2, 7.3, 11.6, 10.4, 11.7, 8.0, 9.0, 6.2, 6.7, 4.9, 5.7, 4.0, 8.5, 6.5, 9.5, 6.0, 7.5, 4.0, 6.0, 2.0, 6.5, 2.0, 5.0, 1.0, 4.0, 1.0, 4.5, -1.0, 4.0, 0.0, 3.0],
    [5.4, 7.5, 12.2, 11.1, 12.3, 8.8, 10.0, 7.5, 7.4, 5.5, 6.6, 5.3, 12.0, 9.5, 12.5, 7.0, 10.0, 7.0, 10.0, 6.5, 9.5, 6.5, 11.0, 5.5, 10.0, 4.0, 7.0, 5.0, 9.5, 5.5, 7.5],
    [5.5, 7.6, 12.0, 10.9, 12.4, 8.6, 9.6, 7.2, 7.3, 5.4, 6.4, 4.6, 10.5, 7.5, 10.5, 3.5, 7.0, 2.0, 8.5, 1.0, 7.5, 3.5, 9.0, 3.0, 8.5, -0.5, 7.5, 0.0, 6.5, -1.5, 5.5],
    [5.4, 7.5, 12.1, 11.0, 12.3, 8.7, 9.9, 7.4, 7.5, 5.5, 6.7, 5.0, 11.0, 8.5, 12.0, 9.5, 12.5, 9.0, 12.0, 8.5, 11.5, 8.0, 11.0, 7.5, 10.5, 6.5, 9.5, 6.0, 9.5, 7.0, 9.5],
    [5.3, 7.4, 11.9, 10.6, 12.0, 8.3, 9.4, 6.6, 7.1, 5.1, 6.1, 4.3, 9.0, 4.5, 8.0, 3.0, 7.5, 2.5, 7.5, 2.0, 7.0, 1.5, 6.5, 1.0, 6.0, 0.5, 5.5, -0.5, 5.5, -1.0, 4.5],
    [5.6, 7.7, 12.3, 11.2, 12.5, 9.3, 10.4, 8.0, 7.9, 5.9, 7.1, 5.8, 13.5, 10.5, 14.5, 12.0, 14.5, 11.5, 13.5, 10.5, 13.0, 11.0, 14.0, 11.5, 12.5, 10.5, 11.5, 9.5, 11.0, 10.5, 12.0],
    [5.2, 7.3, 11.7, 10.4, 11.8, 8.0, 9.1, 6.4, 6.9, 5.0, 5.8, 3.8, 7.5, 2.5, 5.5, 1.5, 5.0, -1.0, 6.0, 0.0, 5.5, -0.5, 4.5, -1.5, 3.5, -2.5, 2.5, -2.0, 2.0, -3.0, 0.5],
    [5.5, 7.6, 12.2, 11.1, 12.4, 8.9, 10.1, 7.6, 7.6, 5.6, 6.7, 5.4, 10.0, 6.5, 10.0, 6.5, 10.0, 7.5, 10.5, 7.5, 10.0, 6.0, 9.5, 6.5, 9.0, 5.5, 8.0, 4.5, 8.5, 5.0, 7.0],
    [5.4, 7.5, 12.0, 10.8, 12.2, 8.6, 9.7, 7.1, 7.3, 5.3, 6.3, 4.7, 9.0, 5.5, 9.5, 4.5, 8.5, 4.0, 9.5, 5.5, 8.5, 4.0, 7.5, 4.5, 8.0, 3.5, 7.0, 2.5, 7.5, 2.0, 6.0],
    [5.6, 7.7, 12.4, 11.3, 12.6, 9.4, 10.6, 8.2, 8.0, 6.1, 7.2, 6.2, 12.0, 9.5, 13.5, 10.0, 12.0, 10.5, 11.0, 9.0, 12.0, 9.5, 12.0, 8.5, 11.5, 7.5, 10.0, 7.0, 10.5, 8.0, 10.5],
    [5.3, 7.4, 11.8, 10.5, 11.9, 8.1, 9.3, 6.5, 7.0, 5.1, 5.9, 4.2, 8.0, 3.5, 7.0, 0.5, 6.5, 0.5, 7.5, 1.5, 6.0, 2.5, 6.5, 0.5, 5.0, -1.5, 4.5, -2.5, 4.0, -2.5, 2.5],
]

# ---------------- Sneeuwval / 6 uur (6-hourly members) ----------------
SN_OPER = [0, 0, 0, 0, 0, 0, 0, 0, 0, 0,
           0, 0, 0, 0, 0, 0, 0, 0, 0, 0,
           0, 0, 0, 0, 0, 0, 0, 0, 0, 0,
           0, 0, 0, 0, 0, 0, 0, 0, 0, 0]
SN_CTRL = [0, 0, 0, 0, 0, 0, 0, 0, 0, 0,
           0, 0, 0, 0, 0, 0, 0, 0, 0, 0,
           0, 0, 0, 0, 0, 0, 0, 0, 0, 0,
           0, 0, 0, 0, 0, 0, 0, 0, 0, 0,
           0, 0, 0, 0, 0, 0, 0, 0, 0, 0,
           0, 0, 0, 0, 0, 0, 0, 0, 0, 0]
SN_MEAN = [0, 0, 0, 0, 0, 0, 0, 0, 0, 0,
           0, 0, 0, 0, 0, 0, 0, 0, 0, 0,
           0, 0, 0.02, 0.03, 0.02, 0.02, 0, 0.03, 0, 0,
           0, 0, 0, 0, 0.04, 0.03, 0, 0, 0, 0,
           0, 0, 0, 0, 0, 0, 0, 0, 0, 0,
           0, 0, 0, 0, 0, 0, 0, 0, 0, 0]
SN_MEMBERS = [
    [0, 0, 0, 0, 0, 0, 0, 0, 0, 0, 0, 0, 0, 0, 0, 0.3, 0, 0, 0, 0, 0, 0, 0, 0, 0, 0, 0, 0, 0, 0,
     0, 0, 0, 0, 0, 0, 0, 0, 0, 0, 0, 0, 0, 0, 0, 0, 0, 0, 0, 0, 0, 0, 0, 0, 0, 0, 0, 0, 0, 0],
    [0, 0, 0, 0, 0, 0, 0, 0, 0, 0, 0, 0, 0, 0, 0, 0, 0, 0, 0, 0, 0, 0, 1.0, 1.2, 0.3, 0, 0, 0, 0, 0,
     0, 0, 0, 0, 0, 0, 0, 0, 0, 0, 0, 0, 0, 0, 0, 0, 0, 0, 0, 0, 0, 0, 0, 0, 0, 0, 0, 0, 0, 0],
    [0, 0, 0, 0, 0, 0, 0, 0, 0, 0, 0, 0, 0, 0, 0, 0, 0, 0, 0, 0, 0, 0, 0, 0.5, 0.2, 0, 0, 0, 0, 0,
     0, 0, 0, 0, 0, 0, 0, 0, 0, 0, 0, 0, 0, 0, 0, 0, 0, 0, 0, 0, 0, 0, 0, 0, 0, 0, 0, 0, 0, 0],
    [0, 0, 0, 0, 0, 0, 0, 0, 0, 0, 0, 0, 0, 0, 0, 0, 0, 0, 0, 0, 0, 0, 0, 0, 0.2, 1.0, 0, 1.5, 0, 0,
     0, 0, 0, 0, 0, 0, 0, 0, 0, 0, 0, 0, 0, 0, 0, 0, 0, 0, 0, 0, 0, 0, 0, 0, 0, 0, 0, 0, 0, 0],
    [0, 0, 0, 0, 0, 0, 0, 0, 0, 0, 0, 0, 0, 0, 0, 0, 0, 0, 0, 0, 0, 0, 0, 0, 0, 0, 0, 0, 0, 0,
     0, 0, 0, 0, 2.3, 0, 0, 0, 0, 0, 0, 0, 0, 0, 0, 0, 0, 0, 0, 0, 0, 0, 0, 0, 0, 0, 0, 0, 0, 0],
    [0, 0, 0, 0, 0, 0, 0, 0, 0, 0, 0, 0, 0, 0, 0, 0, 0, 0, 0, 0, 0, 0, 0, 0, 0, 0, 0, 0, 0, 0,
     0, 0, 0, 0, 0, 0, 0, 0, 0, 0, 0, 0, 0, 0, 0, 0.3, 0, 0, 0, 0, 0, 0.1, 0.1, 0.1, 0, 0.4, 0, 0.3, 0.3, 0],
    [0, 0, 0, 0, 0, 0, 0, 0, 0, 0, 0, 0, 0, 0, 0, 0.1, 0, 0, 0, 0, 0, 0, 0.2, 0.1, 0.15, 0, 0, 0, 0, 0,
     0, 0, 0, 0, 0, 0, 0, 0, 0, 0, 0, 0, 0, 0, 0, 0, 0, 0, 0, 0, 0, 0, 0, 0, 0, 0, 0, 0, 0, 0],
]

# thresholds drawn as horizontal lines: (value, colour, width)
PR_LINES = [(15, "#b4b4b4", 2.5), (20, "#c070e0", 1)]
AC_LINES = [(20, "#a8a8a8", 1), (40, "#a8a8a8", 1), (60, "#a8a8a8", 1), (80, "#a8a8a8", 1)]
WI_LINES = [(10.8, "#b4b4b4", 2.5), (13.9, "#a8a8a8", 1), (17.2, "#a8a8a8", 1)]
GU_LINES = [(20.8, "#707070", 1), (24.5, "#707070", 1), (28.5, "#c070e0", 1)]
T2_LINES = [(0, "#505050", 1)]

GREEN = "#84b656"
FRAME_BLUE = "#2830ff"
PANEL_W = 429
PANEL_H = 204


def frange(a, b, s):
    out = []
    v = a
    while v <= b + 1e-9:
        out.append(round(v, 3))
        v += s
    return out


def panel(col, ylabel, yr, major, minor, right_txt, members, members_x,
          ctrl, oper, mean, lines, bron):
    p = figure(width=PANEL_W, height=PANEL_H, x_range=Range1d(0, 360), y_range=Range1d(*yr),
               x_axis_type=None, y_axis_type=None, output_backend="svg",
               toolbar_location=None,
               min_border_left=33 if col == 0 else 32, min_border_right=26,
               min_border_top=29, min_border_bottom=29)
    p.outline_line_color = "black"
    p.outline_line_width = 1
    p.background_fill_color = "white"
    p.border_fill_color = "white"

    p.title.text = TITLE
    p.title.align = "left"
    p.title.offset = 62
    p.title.text_font = FONT
    p.title.text_font_size = "11px"
    p.title.text_font_style = "bold"
    p.title.standoff = 17

    ticks = frange(yr[0], yr[1], major)
    ticks = [int(t) if float(t).is_integer() else t for t in ticks]
    minors = frange(yr[0], yr[1], minor) if minor else []
    for side in ("left", "right"):
        ax = LinearAxis(ticker=FixedTicker(ticks=ticks, minor_ticks=minors))
        ax.major_tick_out = 4
        ax.major_tick_in = 0
        ax.minor_tick_out = 2
        ax.minor_tick_in = 0
        ax.major_label_standoff = 2
        ax.major_label_text_font = FONT
        ax.major_label_text_font_size = "8px"
        ax.axis_line_color = "black"
        if side == "left":
            ax.axis_label = ylabel
            ax.axis_label_text_font = FONT
            ax.axis_label_text_font_size = "9px"
            ax.axis_label_text_font_style = "bold"
            ax.axis_label_standoff = 3
        p.add_layout(ax, side)

    xa = LinearAxis(ticker=FixedTicker(ticks=XTICKS),
                    major_label_overrides={t: l for t, l in zip(XTICKS, XLABELS)})
    xa.major_tick_out = 0
    xa.major_tick_in = 0
    xa.minor_tick_line_color = None
    xa.major_label_standoff = 4
    xa.major_label_text_font = FONT
    xa.major_label_text_font_size = "6.5px"
    p.add_layout(xa, "below")

    da = LinearAxis(ticker=FixedTicker(ticks=DAYTICKS),
                    major_label_overrides={t: l for t, l in zip(DAYTICKS, DAYLABELS)})
    da.axis_line_color = None
    da.major_tick_line_color = None
    da.minor_tick_line_color = None
    da.major_tick_out = 0
    da.major_label_standoff = 0
    da.major_label_text_font = FONT
    da.major_label_text_font_size = "9px"
    da.major_label_text_font_style = "bold"
    p.add_layout(da, "below")

    p.add_layout(Title(text=bron, align="right", offset=-23, standoff=0,
                       text_font=FONT, text_font_size="7px", text_font_style="bold",
                       text_color="#1010dd"), "below")

    for v, c, w in lines:
        p.add_layout(Span(location=v, dimension="width", line_color=c,
                          line_width=w, level="underlay"))

    p.multi_line(xs=[members_x[:len(m)] for m in members], ys=members,
                 line_color=GREEN, line_alpha=0.8, line_width=1)
    rm = p.line(HOURS6[:len(mean)], mean, line_color="#8b2a10", line_width=2,
                line_dash="2 2")
    rc = p.line(HOURS6[:len(ctrl)], ctrl, line_color="#0000ff", line_width=2,
                line_dash="4 3")
    ro = p.line(HOURS6[:len(oper)], oper, line_color="#ff0000", line_width=2)

    leg = Legend(items=[LegendItem(label="Control", renderers=[rc]),
                        LegendItem(label="\u00a0\u00a0Oper", renderers=[ro]),
                        LegendItem(label="Ens mn", renderers=[rm])],
                 location="top_left", label_text_font=FONT,
                 label_text_font_size="7.5px", glyph_width=14, glyph_height=7,
                 label_height=7, label_standoff=6, spacing=0, padding=2,
                 margin=2, border_line_alpha=0, background_fill_alpha=0)
    p.add_layout(leg)

    p.add_layout(Label(x=310, y=yr[1], y_offset=-7, text="De Bilt", text_align="center",
                       text_baseline="middle", text_font=FONT, text_font_size="10px",
                       text_font_style="bold"))
    p.add_layout(Label(x=310, y=yr[1], y_offset=-18, text=right_txt, text_align="center",
                       text_baseline="middle", text_font=FONT, text_font_size="10px",
                       text_font_style="bold"))
    return p


BRON_L = "Bron: ECMWF/KNMI"
BRON_R = "Bron : ECMWF/KNMI"

p1 = panel(0, "mm", (0, 30), 5, 1, "Neerslag/6 uur", PR_MEMBERS, HOURS_M,
           PR_CTRL, PR_OPER, PR_MEAN, PR_LINES, BRON_L)
p2 = panel(1, "mm", (0, 100), 20, 5, "Accum Neerslag", AC_MEMBERS, HOURS_M,
           AC_CTRL, AC_OPER, AC_MEAN, AC_LINES, BRON_R)
p3 = panel(0, "m/s", (0, 20), 5, 1, "10m wind", WI_MEMBERS, HOURS_M,
           WI_CTRL, WI_OPER, WI_MEAN, WI_LINES, BRON_L)
p4 = panel(1, "m/s", (0, 40), 5, 1, "Windstoten", GU_MEMBERS, HOURS_M,
           GU_CTRL, GU_OPER, GU_MEAN, GU_LINES, BRON_R)
p5 = panel(0, "(Celsius)", (-5, 20), 5, 1, "T2m", T2_MEMBERS, HOURS_M,
           T2_CTRL, T2_OPER, T2_MEAN, T2_LINES, BRON_L)
p6 = panel(1, "cm", (0, 5), 1, 0, "sneeuwval/6 uur", SN_MEMBERS, HOURS6,
           SN_CTRL, SN_OPER, SN_MEAN, [], BRON_R)

grid = gridplot([[p1, p2], [p3, p4], [p5, p6]], toolbar_location=None)
grid.spacing = 2
grid.styles = {"background-color": FRAME_BLUE, "padding": "2px",
               "width": "fit-content", "height": "fit-content"}

open("out.html", "w").write(file_html(grid, INLINE))
